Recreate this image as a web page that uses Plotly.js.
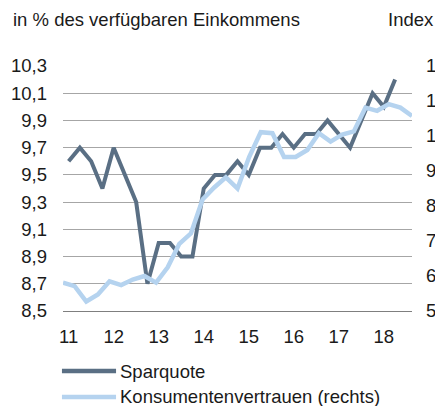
<!DOCTYPE html>
<html>
<head>
<meta charset="utf-8">
<script src="https://cdn.plot.ly/plotly-3.0.1.min.js"></script>
<style>
  html, body { margin: 0; padding: 0; background: #ffffff; }
  #chart { width: 435px; height: 406px; }
</style>
</head>
<body>
<div id="chart"></div>
<script>
// Quarters 2011Q1 .. 2018Q3
const quarters = [
  '2011Q1','2011Q2','2011Q3','2011Q4',
  '2012Q1','2012Q2','2012Q3','2012Q4',
  '2013Q1','2013Q2','2013Q3','2013Q4',
  '2014Q1','2014Q2','2014Q3','2014Q4',
  '2015Q1','2015Q2','2015Q3','2015Q4',
  '2016Q1','2016Q2','2016Q3','2016Q4',
  '2017Q1','2017Q2','2017Q3','2017Q4',
  '2018Q1','2018Q2','2018Q3'
];
// Sparquote, in % des verfügbaren Einkommens (2011Q1 .. 2018Q2)
const sparquote = [
  9.6, 9.7, 9.6, 9.4,
  9.7, 9.5, 9.3, 8.7,
  9.0, 9.0, 8.9, 8.9,
  9.4, 9.5, 9.5, 9.6,
  9.5, 9.7, 9.7, 9.8,
  9.7, 9.8, 9.8, 9.9,
  9.8, 9.7, 9.9, 10.1,
  10.0, 10.2
];
// Konsumentenvertrauen, Index (rechts) (2011Q1 .. 2018Q3)
const konsumentenvertrauen = [
  58.1, 57.1, 52.7, 54.7,
  58.5, 57.4, 59.0, 60.0,
  58.1, 62.5, 69.2, 72.2,
  81.9, 85.3, 88.2, 85.0,
  94.0, 101.1, 100.8, 94.0,
  94.0, 96.0, 100.8, 98.4,
  100.4, 101.3, 108.1, 107.2,
  109.1, 108.1, 105.7
];
const seriesNames = ['Sparquote', 'Konsumentenvertrauen (rechts)'];
const seriesColors = ['#5a6f84', '#b5d3ef'];
const yearLabels = ['11','12','13','14','15','16','17','18'];
const leftTicks = [8.5, 8.7, 8.9, 9.1, 9.3, 9.5, 9.7, 9.9, 10.1, 10.3];
const rightTicks = [50, 60, 70, 80, 90, 100, 110, 120];

const FONT = 'Liberation Sans, Arial, sans-serif';
const FS = 18.5;
const TXT = '#1a1a1a';

const yearTickPos = yearLabels.map((_, i) => i * 4);

const traces = [
  {
    name: seriesNames[1],
    x: konsumentenvertrauen.map((_, i) => i),
    y: konsumentenvertrauen,
    xaxis: 'x2',
    yaxis: 'y2',
    mode: 'lines',
    line: { color: seriesColors[1], width: 4.5 },
    hoverinfo: 'skip'
  },
  {
    name: seriesNames[0],
    x: sparquote.map((_, i) => i),
    y: sparquote,
    xaxis: 'x',
    yaxis: 'y',
    mode: 'lines',
    line: { color: seriesColors[0], width: 4 },
    hoverinfo: 'skip'
  }
];

// Legend (drawn below the plot: sample line + label)
const legendY = [-0.245, -0.351];
const legendShapes = seriesNames.map((n, i) => ({
  type: 'line', xref: 'paper', yref: 'paper',
  x0: -0.003, x1: 0.152, y0: legendY[i], y1: legendY[i],
  line: { color: seriesColors[i], width: 4.5 }
}));
const legendLabels = seriesNames.map((n, i) => ({
  text: n, xref: 'paper', yref: 'paper',
  x: 0.158, y: legendY[i], xanchor: 'left', yanchor: 'middle',
  showarrow: false,
  font: { family: FONT, size: FS, color: TXT }
}));

const layout = {
  width: 435,
  height: 406,
  margin: { l: 63, r: 23, t: 66, b: 95, autoexpand: false },
  paper_bgcolor: '#ffffff',
  plot_bgcolor: '#ffffff',
  separators: ',.',
  font: { family: FONT, size: FS, color: TXT },
  showlegend: false,
  xaxis: {
    range: [-0.5, quarters.length - 0.5],
    tickmode: 'array',
    tickvals: yearTickPos,
    ticktext: yearLabels,
    ticks: '',
    ticklabelstandoff: 9,
    showgrid: false,
    zeroline: false,
    showline: true,
    linecolor: '#7f7f7f',
    linewidth: 1,
    fixedrange: true,
    tickfont: { family: FONT, size: FS, color: TXT }
  },
  xaxis2: {
    range: [0, quarters.length - 1],
    overlaying: 'x',
    visible: false,
    fixedrange: true
  },
  yaxis: {
    range: [8.5, 10.3],
    tickmode: 'array',
    tickvals: leftTicks,
    ticktext: leftTicks.map(v => v.toFixed(1).replace('.', ',')),
    ticks: '',
    ticklabelstandoff: 15,
    showgrid: true,
    gridcolor: '#a6a6a6',
    gridwidth: 1,
    zeroline: false,
    showline: false,
    fixedrange: true,
    tickfont: { family: FONT, size: FS, color: TXT }
  },
  yaxis2: {
    range: [50, 120],
    overlaying: 'y',
    side: 'right',
    tickmode: 'array',
    tickvals: rightTicks,
    ticktext: rightTicks.map(String),
    ticks: '',
    ticklabelstandoff: 13,
    showgrid: false,
    zeroline: false,
    showline: false,
    fixedrange: true,
    tickfont: { family: FONT, size: FS, color: TXT }
  },
  shapes: legendShapes,
  annotations: [
    {
      text: 'in % des verfügbaren Einkommens',
      xref: 'paper', yref: 'paper',
      x: -0.149, y: 1.188,
      xanchor: 'left', yanchor: 'middle',
      showarrow: false,
      font: { family: FONT, size: FS, color: TXT }
    },
    {
      text: 'Index',
      xref: 'paper', yref: 'paper',
      x: 0.925, y: 1.188,
      xanchor: 'left', yanchor: 'middle',
      showarrow: false,
      font: { family: FONT, size: FS, color: TXT }
    }
  ].concat(legendLabels)
};

Plotly.newPlot('chart', traces, layout, { displayModeBar: false, staticPlot: true });
</script>
</body>
</html>
